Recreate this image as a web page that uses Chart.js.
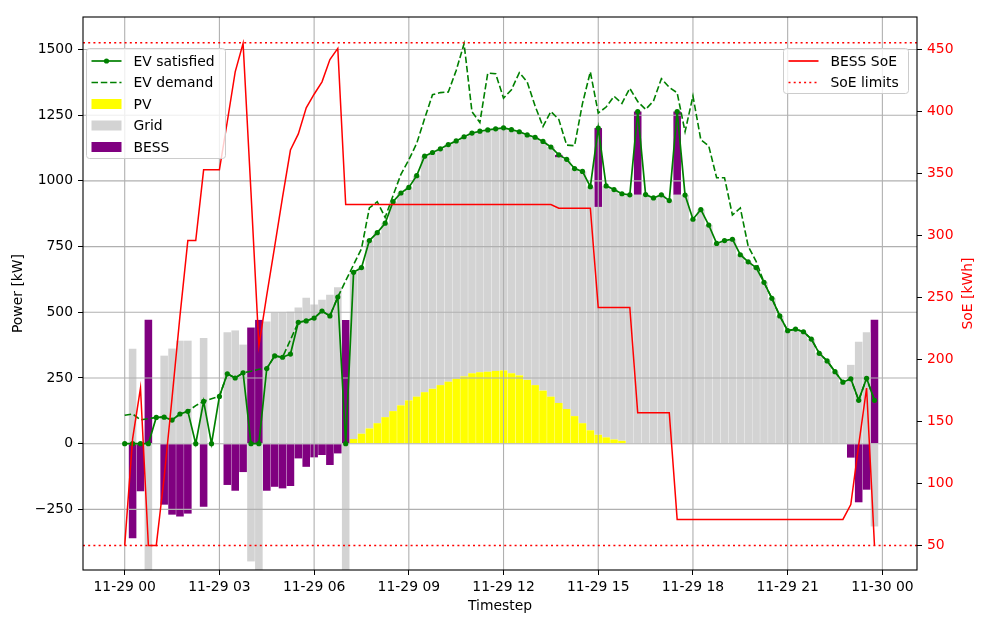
<!DOCTYPE html>
<html>
<head>
<meta charset="utf-8">
<style>
  html, body { margin: 0; padding: 0; background: #fff; }
</style>
<script src="https://cdn.jsdelivr.net/npm/chart.js@4.4.1/dist/chart.umd.min.js"></script>
</head>
<body>
<canvas id="evChart" width="997" height="619"></canvas>
<script>
// values, one entry per 15 min step (11-29 00:00 .. 23:45)
const evSatisfied = [
  0, 0, 0, 0, 100, 101, 90, 113, 123, 0,
  161, 0, 180, 266, 250, 270, 0, 0, 286, 334,
  329, 341, 462, 467, 478, 505, 486, 558, 0, 652,
  670, 773, 803, 839, 921, 954, 975, 1020, 1094, 1108,
  1122, 1138, 1152, 1168, 1182, 1189, 1194, 1198, 1202, 1195,
  1187, 1175, 1166, 1150, 1129, 1099, 1082, 1047, 1036, 978,
  1201, 981, 967, 951, 947, 1264, 948, 935, 947, 925,
  1264, 946, 854, 891, 832, 762, 773, 778, 719, 692,
  670, 614, 553, 486, 430, 436, 426, 398, 344, 315,
  274, 234, 247, 165, 249, 165
];
const evDemand = [
  108, 113, 91, 95, 100, 101, 90, 113, 123, 145,
  161, 171, 180, 266, 250, 270, 276, 283, 286, 334,
  329, 395, 462, 467, 478, 505, 486, 558, 620, 681,
  742, 897, 921, 861, 944, 1025, 1080, 1143, 1237, 1328,
  1336, 1338, 1420, 1522, 1263, 1222, 1410, 1408, 1315, 1347,
  1412, 1376, 1285, 1207, 1264, 1234, 1136, 1134, 1294, 1415,
  1258, 1281, 1322, 1295, 1352, 1302, 1272, 1304, 1389, 1356,
  1335, 1187, 1323, 1156, 1133, 1012, 1012, 870, 897, 751,
  694, 614, 553, 486, 430, 436, 426, 398, 344, 315,
  274, 234, 247, 165, 249, 165
];
const pv = [
  0, 0, 0, 0, 0, 0, 0, 0, 0, 0,
  0, 0, 0, 0, 0, 0, 0, 0, 0, 0,
  0, 0, 0, 0, 0, 0, 0, 0, 0, 18,
  38, 58, 78, 101, 124, 146, 165, 179, 196, 209,
  223, 236, 247, 256, 268, 272, 274, 277, 279, 268,
  260, 243, 223, 202, 179, 155, 132, 105, 78, 51,
  34, 24, 16, 11, 0, 0, 0, 0, 0, 0,
  0, 0, 0, 0, 0, 0, 0, 0, 0, 0,
  0, 0, 0, 0, 0, 0, 0, 0, 0, 0,
  0, 0, 0, 0, 0, 0
];
const grid = [
  0, 361, 0, -490, 0, 335, 362, 392, 392, 0,
  402, 0, 0, 424, 431, 377, -448, -490, 465, 498,
  499, 502, 518, 555, 530, 548, 567, 595, -490, 634,
  632, 715, 725, 738, 797, 808, 810, 841, 898, 899,
  899, 902, 905, 912, 914, 917, 920, 921, 923, 927,
  927, 932, 943, 948, 950, 934, 950, 942, 958, 927,
  867, 957, 951, 940, 947, 947, 948, 935, 947, 925,
  947, 946, 854, 891, 832, 762, 773, 778, 719, 692,
  670, 614, 553, 486, 430, 436, 426, 398, 344, 315,
  274, 234, 300, 388, 424, -315
];
const bess = [
  0, -360, -181, 472, 0, -232, -270, -277, -266, 0,
  -240, 0, 0, -157, -179, -108, 442, 471, -179, -164,
  -170, -161, -56, -88, -52, -43, -81, -37, 471, 0,
  0, 0, 0, 0, 0, 0, 0, 0, 0, 0,
  0, 0, 0, 0, 0, 0, 0, 0, 0, 0,
  0, 0, 0, 0, 0, 10, 0, 0, 0, 0,
  300, 0, 0, 0, 0, 317, 0, 0, 0, 0,
  317, 0, 0, 0, 0, 0, 0, 0, 0, 0,
  0, 0, 0, 0, 0, 0, 0, 0, 0, 0,
  0, 0, -53, -223, -175, 472
];
const bessSoe = [
  50, 136, 177, 50, 50, 105, 169, 235, 296, 296,
  353, 353, 353, 392, 432, 455, 335, 211, 252, 291,
  331, 369, 382, 403, 414, 424, 442, 451, 325, 325,
  325, 325, 325, 325, 325, 325, 325, 325, 325, 325,
  325, 325, 325, 325, 325, 325, 325, 325, 325, 325,
  325, 325, 325, 325, 325, 322, 322, 322, 322, 322,
  242, 242, 242, 242, 242, 157, 157, 157, 157, 157,
  71, 71, 71, 71, 71, 71, 71, 71, 71, 71,
  71, 71, 71, 71, 71, 71, 71, 71, 71, 71,
  71, 71, 83, 131, 177, 50
];
const soeLimits = [50, 455.5];

// hours since 11-29 00:00
const timesteps = Array.from({ length: evSatisfied.length }, (_, i) => i * 0.25);

const xTickHours = [0, 3, 6, 9, 12, 15, 18, 21, 24];
const xTickLabels = ['11-29 00', '11-29 03', '11-29 06', '11-29 09', '11-29 12',
                     '11-29 15', '11-29 18', '11-29 21', '11-30 00'];
const powerTicks = [-250, 0, 250, 500, 750, 1000, 1250, 1500];
const soeTicks = [50, 100, 150, 200, 250, 300, 350, 400, 450];

const FONT = '"DejaVu Sans", sans-serif';
const FS = 13.9;
const GREEN = 'green', RED = 'red', YELLOW = '#ffff00', GREY = '#d3d3d3', PURPLE = '#800080';

Chart.defaults.font.family = FONT;
Chart.defaults.font.size = FS;
Chart.defaults.color = '#000';

const pts = vals => vals.map((v, i) => ({ x: timesteps[i], y: v }));

function minusSign(v) {
  return v < 0 ? '\u2212' + Math.abs(v) : String(v);
}

const legendLeft = [
  { label: 'EV satisfied', kind: 'marker', color: GREEN },
  { label: 'EV demand', kind: 'dash', color: GREEN },
  { label: 'PV', kind: 'patch', color: YELLOW },
  { label: 'Grid', kind: 'patch', color: GREY },
  { label: 'BESS', kind: 'patch', color: PURPLE }
];
const legendRight = [
  { label: 'BESS SoE', kind: 'line', color: RED },
  { label: 'SoE limits', kind: 'dot', color: RED }
];

function drawLegend(ctx, items, bx, by, bw, bh) {
  ctx.save();
  ctx.fillStyle = 'rgba(255,255,255,0.8)';
  ctx.strokeStyle = '#cccccc';
  ctx.lineWidth = 1;
  ctx.beginPath();
  ctx.roundRect(bx, by, bw, bh, 3);
  ctx.fill();
  ctx.stroke();
  ctx.font = FS + 'px ' + FONT;
  ctx.textBaseline = 'middle';
  items.forEach((it, i) => {
    const cy = by + 12.5 + i * 21.5;
    const hx0 = bx + 5, hx1 = bx + 35;
    ctx.strokeStyle = it.color;
    ctx.fillStyle = it.color;
    ctx.lineWidth = 1.7;
    ctx.setLineDash([]);
    if (it.kind === 'patch') {
      ctx.fillRect(hx0, cy - 5, hx1 - hx0, 10);
    } else {
      if (it.kind === 'dash') ctx.setLineDash([6.5, 2.8]);
      if (it.kind === 'dot') { ctx.setLineDash([2, 3.2]); ctx.lineWidth = 1.5; }
      ctx.beginPath();
      ctx.moveTo(hx0, cy);
      ctx.lineTo(hx1, cy);
      ctx.stroke();
      ctx.setLineDash([]);
      if (it.kind === 'marker') {
        ctx.beginPath();
        ctx.arc((hx0 + hx1) / 2, cy, 2.6, 0, Math.PI * 2);
        ctx.fill();
      }
    }
    ctx.fillStyle = '#000';
    ctx.fillText(it.label, bx + 47, cy + 1);
  });
  ctx.restore();
}

// PV is the last bar set drawn (lowest order among the bars)
const LAST_BAR_INDEX = 0;

const decorations = {
  id: 'decorations',
  afterDatasetDraw(chart, args) {
    // matplotlib draws the grid above the bars but under the lines
    if (args.index !== LAST_BAR_INDEX) return;
    const { ctx, chartArea: a, scales: { x, y } } = chart;
    ctx.save();
    ctx.strokeStyle = '#b0b0b0';
    ctx.lineWidth = 1.1;
    xTickHours.forEach(h => {
      const px = x.getPixelForValue(h);
      ctx.beginPath(); ctx.moveTo(px, a.top); ctx.lineTo(px, a.bottom); ctx.stroke();
    });
    powerTicks.forEach(v => {
      const py = y.getPixelForValue(v);
      ctx.beginPath(); ctx.moveTo(a.left, py); ctx.lineTo(a.right, py); ctx.stroke();
    });
    ctx.restore();
  },
  afterDatasetsDraw(chart) {
    const { ctx, chartArea: a, scales: { y1 } } = chart;
    ctx.save();
    ctx.beginPath();
    ctx.rect(a.left, a.top, a.width, a.height);
    ctx.clip();
    ctx.strokeStyle = RED;
    ctx.lineWidth = 1.5;
    ctx.setLineDash([2, 3.2]);
    soeLimits.forEach(v => {
      const py = y1.getPixelForValue(v);
      ctx.beginPath(); ctx.moveTo(a.left, py); ctx.lineTo(a.right, py); ctx.stroke();
    });
    ctx.restore();

    // frame
    ctx.save();
    ctx.strokeStyle = '#000';
    ctx.lineWidth = 1.1;
    ctx.strokeRect(a.left, a.top, a.width, a.height);
    ctx.restore();
  },
  afterDraw(chart) {
    const { ctx, chartArea: a } = chart;
    drawLegend(ctx, legendLeft, a.left + 3.5, a.top + 31.5, 139, 110);
    drawLegend(ctx, legendRight, a.right - 133.5, a.top + 31.5, 125, 45);

    // right axis label, read bottom to top like matplotlib
    ctx.save();
    ctx.translate(968, (a.top + a.bottom) / 2);
    ctx.rotate(-Math.PI / 2);
    ctx.font = FS + 'px ' + FONT;
    ctx.fillStyle = RED;
    ctx.textAlign = 'center';
    ctx.textBaseline = 'middle';
    ctx.fillText('SoE [kWh]', 0, 0);
    ctx.restore();
  }
};

const barStyle = { stack: 'power', barPercentage: 0.96, categoryPercentage: 1.0, borderWidth: 0 };

new Chart(document.getElementById('evChart'), {
  type: 'bar',
  data: {
    datasets: [
      // stacking follows "order": PV at the bottom, then grid, then BESS
      { type: 'bar', label: 'PV', data: pts(pv), backgroundColor: YELLOW, order: 3, ...barStyle },
      { type: 'bar', label: 'Grid', data: pts(grid), backgroundColor: GREY, order: 4, ...barStyle },
      { type: 'bar', label: 'BESS', data: pts(bess), backgroundColor: PURPLE, order: 5, ...barStyle },
      { type: 'line', label: 'EV demand', data: pts(evDemand), borderColor: GREEN, borderWidth: 1.6,
        borderDash: [6.5, 2.8], pointRadius: 0, tension: 0, stack: 'demand', order: 2 },
      { type: 'line', label: 'EV satisfied', data: pts(evSatisfied), borderColor: GREEN, borderWidth: 1.7,
        pointRadius: 2.6, pointBackgroundColor: GREEN, pointBorderWidth: 0, tension: 0, stack: 'satisfied', order: 1 },
      { type: 'line', label: 'BESS SoE', data: pts(bessSoe), borderColor: RED, borderWidth: 1.5,
        pointRadius: 0, tension: 0, yAxisID: 'y1', order: 0 }
    ]
  },
  options: {
    responsive: false,
    animation: false,
    devicePixelRatio: 1,
    events: [],
    layout: { padding: { top: 17, left: 0, right: 0, bottom: 0 } },
    plugins: {
      legend: { display: false },
      tooltip: { enabled: false }
    },
    scales: {
      x: {
        type: 'linear',
        min: -1.321,
        max: 25.097,
        offset: false,
        stacked: true,
        afterBuildTicks: s => { s.ticks = xTickHours.map(v => ({ value: v })); },
        afterFit: s => { s.height = 49; },
        ticks: {
          callback: v => xTickLabels[xTickHours.indexOf(v)],
          maxRotation: 0, autoSkip: false, padding: 4, color: '#000'
        },
        grid: { offset: false, drawOnChartArea: false, tickLength: 5, tickColor: '#000' },
        border: { display: false },
        title: { display: true, text: 'Timestep', color: '#000', padding: { top: 0, bottom: 4 } }
      },
      y: {
        type: 'linear',
        position: 'left',
        min: -480.6,
        max: 1623.6,
        stacked: true,
        afterBuildTicks: s => { s.ticks = powerTicks.map(v => ({ value: v })); },
        afterFit: s => { s.width = 83; },
        ticks: { callback: v => minusSign(v), padding: 5, color: '#000' },
        grid: { drawOnChartArea: false, tickLength: 5, tickColor: '#000' },
        border: { display: false },
        title: { display: true, text: 'Power [kW]', color: '#000', padding: { top: 10, bottom: 0 } }
      },
      y1: {
        type: 'linear',
        position: 'right',
        min: 30.2,
        max: 476.3,
        afterBuildTicks: s => { s.ticks = soeTicks.map(v => ({ value: v })); },
        afterFit: s => { s.width = 80; },
        ticks: { padding: 5, color: RED },
        grid: { drawOnChartArea: false, tickLength: 5, tickColor: '#000' },
        border: { display: false }
      }
    }
  },
  plugins: [decorations]
});
</script>
</body>
</html>
